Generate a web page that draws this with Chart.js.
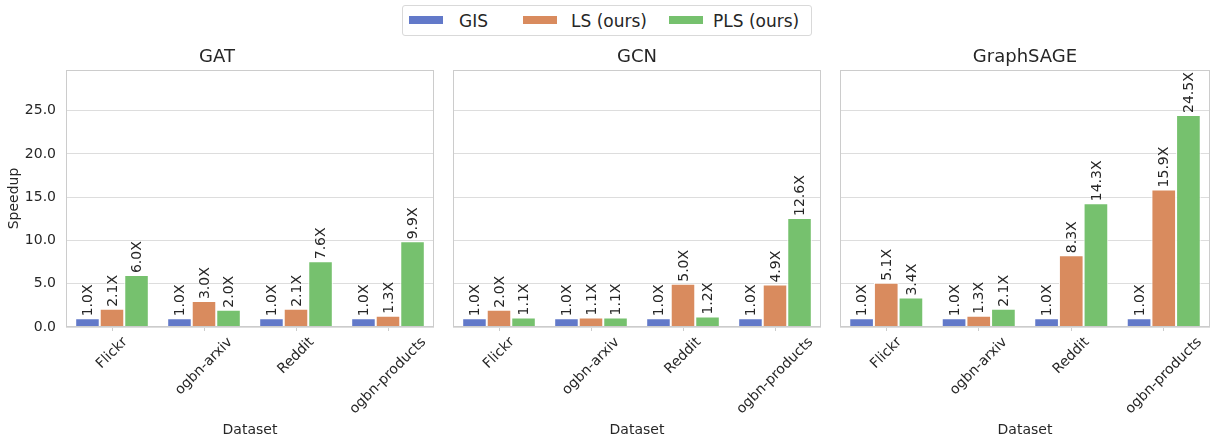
<!DOCTYPE html>
<html>
<head>
<meta charset="utf-8">
<script src="https://cdn.jsdelivr.net/npm/chart.js@4.4.1/dist/chart.umd.min.js"></script>
<style>
  body { margin: 0; background: #fff; font-family: "DejaVu Sans", sans-serif; }
  #wrap { position: relative; width: 1214px; height: 441px; }
  .panel { position: absolute; top: 40px; height: 401px; }
  #legend {
    position: absolute; left: 402px; top: 5px; width: 410px; height: 31px;
    border: 1px solid #d9d9d9; border-radius: 3px; box-sizing: border-box;
    font-size: 17px; color: #262626;
  }
  .item { position: absolute; top: 3px; height: 24px; line-height: 24px; white-space: nowrap; }
  .patch { position: absolute; top: 10px; width: 34px; height: 8px; }
</style>
</head>
<body>
<div id="wrap">
  <div id="legend"></div>
  <div class="panel" style="left:0px;width:440px"><canvas id="c0"></canvas></div>
  <div class="panel" style="left:447px;width:380px"><canvas id="c1"></canvas></div>
  <div class="panel" style="left:834px;width:380px"><canvas id="c2"></canvas></div>
</div>
<script>
// data
const datasets_ = ['Flickr', 'ogbn-arxiv', 'Reddit', 'ogbn-products'];
const methods = ['GIS', 'LS (ours)', 'PLS (ours)'];
const colors = ['#6279c9', '#d98b5e', '#76c16e'];
const models = ['GAT', 'GCN', 'GraphSAGE'];

const gatGIS = [1.0, 1.0, 1.0, 1.0];
const gatLS = [2.1, 3.0, 2.1, 1.3];
const gatPLS = [6.0, 2.0, 7.6, 9.9];

const gcnGIS = [1.0, 1.0, 1.0, 1.0];
const gcnLS = [2.0, 1.1, 5.0, 4.9];
const gcnPLS = [1.1, 1.1, 1.2, 12.6];

const sageGIS = [1.0, 1.0, 1.0, 1.0];
const sageLS = [5.1, 1.3, 8.3, 15.9];
const sagePLS = [3.4, 2.1, 14.3, 24.5];

const yTicks = [0, 5, 10, 15, 20, 25];
const yMax = 29.7;

const panelData = [
  [gatGIS, gatLS, gatPLS],
  [gcnGIS, gcnLS, gcnPLS],
  [sageGIS, sageLS, sagePLS],
];

const FONT = 'DejaVu Sans';
const TXT = '#262626';

// legend (html)
const legend = document.getElementById('legend');
const legendPos = [[6, 56], [120, 168], [266, 310]];
methods.forEach((m, i) => {
  const p = document.createElement('div');
  p.className = 'patch';
  p.style.left = legendPos[i][0] + 'px';
  p.style.background = colors[i];
  legend.appendChild(p);
  const t = document.createElement('div');
  t.className = 'item';
  t.style.left = legendPos[i][1] + 'px';
  t.textContent = m;
  legend.appendChild(t);
});

// frame + rotated labels
const extras = {
  id: 'extras',
  afterDraw(chart) {
    const ctx = chart.ctx;
    const a = chart.chartArea;
    ctx.save();
    ctx.strokeStyle = '#cccccc';
    ctx.lineWidth = 1;
    ctx.strokeRect(a.left + 0.5, a.top + 0.5, a.right - a.left - 1, a.bottom - a.top - 1);

    // value labels above bars
    ctx.fillStyle = TXT;
    ctx.font = '14px "' + FONT + '"';
    chart.data.datasets.forEach((ds, di) => {
      chart.getDatasetMeta(di).data.forEach((bar, j) => {
        ctx.save();
        ctx.translate(bar.x, bar.y - 2);
        ctx.rotate(-Math.PI / 2);
        ctx.textAlign = 'left';
        ctx.textBaseline = 'middle';
        ctx.fillText(ds.data[j].toFixed(1) + 'X', 0, 1);
        ctx.restore();
      });
    });

    // x tick labels rotated 45deg, centred on tick like matplotlib
    const xs = chart.scales.x;
    ctx.font = '14px "' + FONT + '"';
    chart.data.labels.forEach((lab, i) => {
      const x = xs.getPixelForTick(i);
      const w = ctx.measureText(lab).width;
      const h = 14;
      const half = (w + h) * Math.SQRT1_2 / 2;
      ctx.save();
      ctx.translate(x, a.bottom + 8 + half);
      ctx.rotate(-Math.PI / 4);
      ctx.textAlign = 'center';
      ctx.textBaseline = 'middle';
      ctx.fillText(lab, 0, 0);
      ctx.restore();
    });
    ctx.restore();
  }
};

const pads = [
  { left: 0, right: 6 },
  { left: 6, right: 6 },
  { left: 6, right: 4 },
];

models.forEach((name, k) => {
  const first = k === 0;
  new Chart(document.getElementById('c' + k), {
    type: 'bar',
    data: {
      labels: datasets_,
      datasets: panelData[k].map((vals, i) => ({
        label: methods[i],
        data: vals,
        backgroundColor: colors[i],
        borderColor: '#ffffff',
        borderWidth: 1,
        categoryPercentage: 0.8,
        barPercentage: 1.0,
      })),
    },
    options: {
      responsive: true,
      maintainAspectRatio: false,
      animation: false,
      layout: { padding: { left: pads[k].left, right: pads[k].right, top: 0, bottom: 0 } },
      plugins: {
        legend: { display: false },
        tooltip: { enabled: false },
        title: {
          display: true,
          text: name,
          color: TXT,
          font: { family: FONT, size: 18, weight: 'normal' },
          padding: { top: 7, bottom: 1.4 },
        },
      },
      scales: {
        x: {
          grid: { display: true, drawOnChartArea: false, drawTicks: true, tickLength: 4, offset: false, color: '#cccccc' },
          border: { display: false },
          ticks: { display: false },
          title: {
            display: true, text: 'Dataset', color: TXT,
            font: { family: FONT, size: 14 }, padding: { top: 0, bottom: 2 },
          },
          afterFit(s) { s.height = 114; },
        },
        y: {
          min: 0,
          max: yMax,
          afterBuildTicks(s) { s.ticks = yTicks.map(v => ({ value: v })); },
          grid: { color: '#dddddd', drawTicks: false },
          border: { display: false },
          ticks: {
            display: first,
            padding: 10,
            color: TXT,
            font: { family: FONT, size: 14 },
            callback: v => v.toFixed(1),
          },
          title: {
            display: first, text: 'Speedup', color: TXT,
            font: { family: FONT, size: 14 }, padding: { top: 6, bottom: 2 },
          },
          afterFit(s) { s.width = first ? 66 : 0; },
        },
      },
    },
    plugins: [extras],
  });
});
</script>
</body>
</html>
